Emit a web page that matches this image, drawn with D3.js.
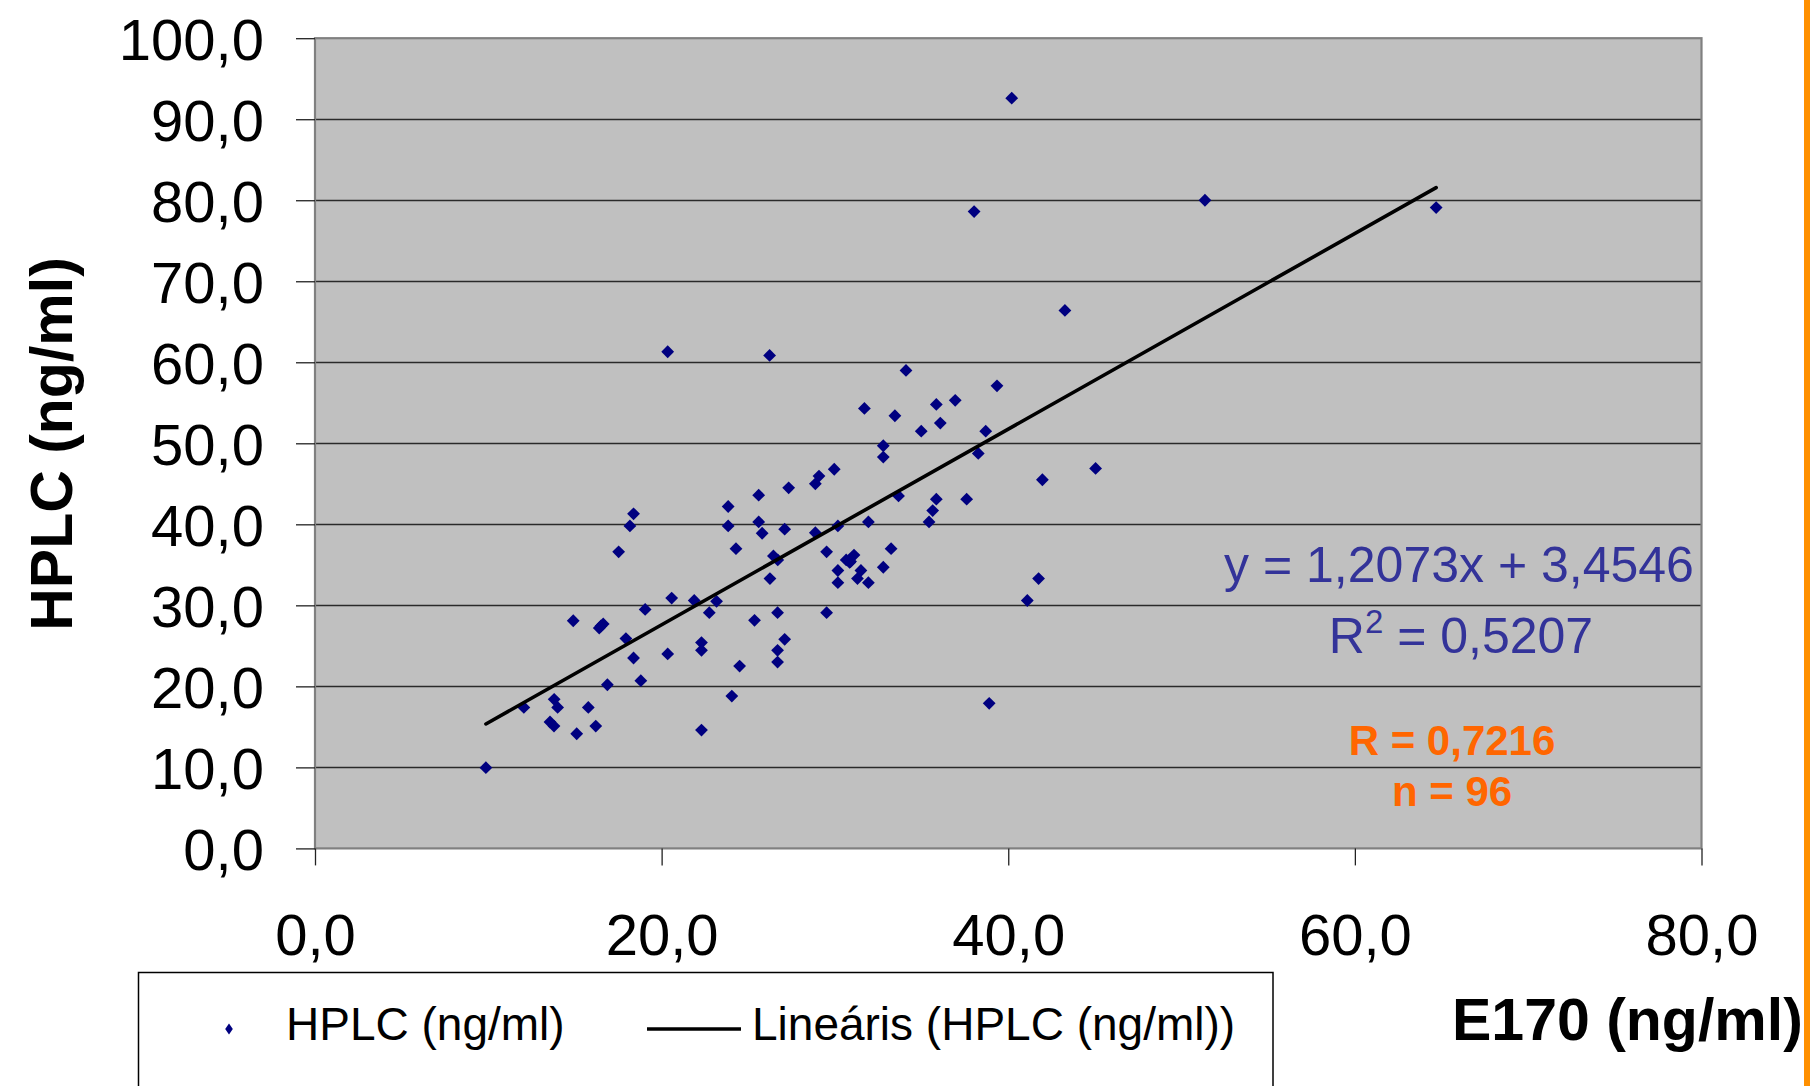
<!DOCTYPE html>
<html>
<head>
<meta charset="utf-8">
<script src="https://cdn.jsdelivr.net/npm/d3@7"></script>
<style>
  html, body { margin: 0; padding: 0; background: #ffffff; }
  svg { display: block; font-family: "Liberation Sans", Arial, sans-serif; }
</style>
</head>
<body>
<svg id="chart" width="1810" height="1086"></svg>
<script>
// ---- data ----
const e170 = [
  40.2, 38.03, 43.27, 51.35, 64.69,
  20.35, 26.23, 29.96, 29.08, 28.87, 27.33, 25.6, 23.84, 18.38, 18.17,
  23.84, 25.6, 25.8, 27.1, 28.87, 30.17, 24.29, 26.45, 26.7, 17.52,
  29.52, 26.25, 30.17, 30.17, 20.58, 21.88, 23.17,
  19.05, 14.9, 16.63, 16.4, 17.94, 18.38, 20.35, 22.3, 22.3, 22.75,
  25.36, 26.69, 29.52, 27.1, 26.69, 26.69, 24.5, 24.05, 22.3, 18.8,
  16.87, 12.05, 13.8, 14.0, 15.77, 13.56, 13.79, 16.2, 15.1, 9.86,
  34.1, 39.35, 31.7, 33.46, 35.85, 36.94, 34.98, 36.08, 38.7, 32.79,
  32.79, 38.27, 45.04, 41.97, 33.67, 35.85, 37.6, 35.64, 35.43, 31.93,
  33.24, 30.65, 30.85, 31.1, 30.9, 31.5, 31.3, 31.93, 32.79, 41.75,
  41.1, 38.9, 30.8, 16.5
];
const hplc = [
  92.6, 78.6, 66.4, 80.0, 79.1,
  61.3, 60.85, 46.8, 45.96, 45.0, 44.5, 43.6, 42.2, 41.3, 39.8,
  39.8, 40.3, 38.9, 39.4, 38.96, 39.8, 37.0, 36.1, 35.6, 36.6,
  36.6, 33.3, 34.3, 32.8, 30.9, 30.6, 30.5,
  29.5, 28.1, 27.7, 27.2, 25.9, 23.5, 24.0, 25.4, 24.45, 29.1,
  28.15, 29.1, 29.1, 25.8, 24.45, 23.0, 22.5, 18.8, 14.6, 20.7,
  20.2, 17.4, 18.4, 17.4, 17.4, 15.6, 15.1, 15.1, 14.15, 9.96,
  59.0, 57.1, 54.3, 53.4, 54.8, 55.3, 51.5, 52.5, 51.5, 49.7,
  48.3, 48.75, 46.9, 45.5, 43.5, 43.1, 43.1, 41.7, 40.3, 40.3,
  37.0, 35.6, 35.3, 36.2, 35.4, 34.3, 33.3, 32.8, 34.7, 33.3,
  30.6, 17.9, 35.5, 27.45
];
const trendSlope = 1.2073;
const trendIntercept = 3.4546;
const xTicks = [0, 20, 40, 60, 80];
const yTicks = [0, 10, 20, 30, 40, 50, 60, 70, 80, 90, 100];
const seriesName = "HPLC (ng/ml)";
const trendName = "Lineáris (HPLC (ng/ml))";
const xTitle = "E170 (ng/ml)";
const yTitle = "HPLC (ng/ml)";
const eqText = "y = 1,2073x + 3,4546";
const r2Value = "0,5207";
const rText = "R = 0,7216";
const nText = "n = 96";

// ---- layout ----
const svg = d3.select("#chart");
const L = 315, R = 1701.5, T = 38.2, B = 848.4;
const x = d3.scaleLinear().domain([0, 80]).range([L, R]);
const y = d3.scaleLinear().domain([0, 100]).range([B, T]);
const fmt = d => d.toFixed(1).replace(".", ",");

// plot background
svg.append("rect").attr("x", L).attr("y", T).attr("width", R - L).attr("height", B - T)
  .attr("fill", "#c0c0c0");

// gridlines
svg.append("g").selectAll("line").data(yTicks.filter(d => d > 0 && d < 100)).join("line")
  .attr("x1", L).attr("x2", R)
  .attr("y1", d => Math.round(y(d)) + 0.5).attr("y2", d => Math.round(y(d)) + 0.5)
  .attr("stroke", "#2a2a2a").attr("stroke-width", 1.3);

// border
svg.append("rect").attr("x", L).attr("y", T).attr("width", R - L).attr("height", B - T)
  .attr("fill", "none").attr("stroke", "#808080").attr("stroke-width", 2.2);

// y axis
const yAxis = svg.append("g").attr("transform", `translate(${L},0)`)
  .call(d3.axisLeft(y).tickValues(yTicks).tickSize(19).tickPadding(32).tickFormat(fmt));
yAxis.select(".domain").remove();
yAxis.selectAll(".tick line").attr("stroke", "#222").attr("stroke-width", 1.3);
yAxis.selectAll(".tick text").attr("font-size", 58).attr("fill", "#000")
  .attr("font-family", "Liberation Sans, Arial, sans-serif").attr("dy", "0.36em");

// x axis
const xAxis = svg.append("g").attr("transform", `translate(0,${B})`)
  .call(d3.axisBottom(x).tickValues(xTicks).tickSize(17).tickFormat(fmt));
xAxis.select(".domain").remove();
xAxis.selectAll(".tick line").attr("stroke", "#222").attr("stroke-width", 1.3);
xAxis.selectAll(".tick text").attr("font-size", 58).attr("fill", "#000")
  .attr("font-family", "Liberation Sans, Arial, sans-serif")
  .attr("y", 107).attr("dy", 0);

// data points
const diamond = (s) => `M0,${-s}L${s},0L0,${s}L${-s},0Z`;
const pts = e170.map((v, i) => ({ x: v, y: hplc[i] }));
svg.append("g").selectAll("path").data(pts).join("path")
  .attr("d", diamond(6.4))
  .attr("transform", d => `translate(${x(d.x)},${y(d.y)})`)
  .attr("fill", "#000080");

// trend line
const xMin = d3.min(e170), xMax = d3.max(e170);
svg.append("line")
  .attr("x1", x(xMin)).attr("y1", y(trendSlope * xMin + trendIntercept))
  .attr("x2", x(xMax)).attr("y2", y(trendSlope * xMax + trendIntercept))
  .attr("stroke", "#000").attr("stroke-width", 3.6).attr("stroke-linecap", "round");

// equation labels
svg.append("text").attr("x", 1459).attr("y", 582).attr("text-anchor", "middle")
  .attr("font-size", 50).attr("fill", "#333399").text(eqText);
const r2 = svg.append("text").attr("x", 1461).attr("y", 653).attr("text-anchor", "middle")
  .attr("font-size", 50).attr("fill", "#333399");
r2.append("tspan").text("R");
r2.append("tspan").attr("font-size", 33).attr("dy", -20).text("2");
r2.append("tspan").attr("dy", 20).text(" = " + r2Value);

svg.append("text").attr("x", 1452).attr("y", 755).attr("text-anchor", "middle")
  .attr("font-size", 42).attr("font-weight", "bold").attr("fill", "#ff6600").text(rText);
svg.append("text").attr("x", 1452).attr("y", 806).attr("text-anchor", "middle")
  .attr("font-size", 42).attr("font-weight", "bold").attr("fill", "#ff6600").text(nText);

// axis titles
svg.append("text").attr("transform", "translate(72,444) rotate(-90)").attr("text-anchor", "middle")
  .attr("font-size", 59).attr("font-weight", "bold").attr("fill", "#000").text(yTitle);
svg.append("text").attr("x", 1452).attr("y", 1040)
  .attr("font-size", 59).attr("font-weight", "bold").attr("fill", "#000").text(xTitle);

// legend
const lg = svg.append("g");
lg.append("rect").attr("x", 138.5).attr("y", 972.5).attr("width", 1134.5).attr("height", 140)
  .attr("fill", "#fff").attr("stroke", "#000").attr("stroke-width", 1.5);
lg.append("path").attr("d", "M0,-5.5L3.8,0L0,5.5L-3.8,0Z")
  .attr("transform", "translate(229,1029)").attr("fill", "#000080");
lg.append("text").attr("x", 286).attr("y", 1040).attr("font-size", 46).attr("fill", "#000").text(seriesName);
lg.append("line").attr("x1", 647).attr("x2", 741).attr("y1", 1029).attr("y2", 1029)
  .attr("stroke", "#000").attr("stroke-width", 3.6);
lg.append("text").attr("x", 752).attr("y", 1040).attr("font-size", 46).attr("fill", "#000").text(trendName);

// orange stripe at right edge
svg.append("rect").attr("x", 1804).attr("y", 0).attr("width", 6).attr("height", 1086).attr("fill", "#ff9000");
</script>
</body>
</html>
